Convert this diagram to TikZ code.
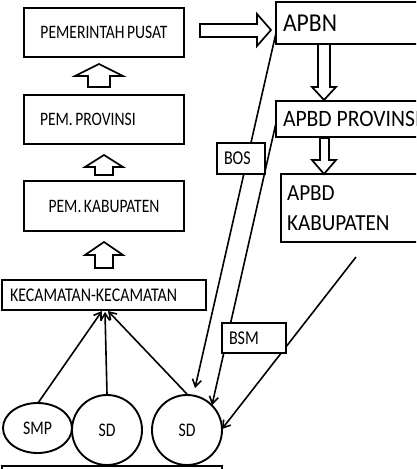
\documentclass[tikz,border=0pt]{standalone}
\usepackage{fontspec}
\setmainfont[FakeStretch=0.82,WordSpace=0.7]{Carlito}
\newfontfamily\bigf[FakeStretch=0.92,WordSpace=1.0]{Carlito}
\usetikzlibrary{shapes.geometric,arrows.meta}
\tikzset{
  box/.style={draw, line width=1.9pt, inner sep=0pt, font=\fontsize{19}{20}\selectfont},
  lbox/.style={box, align=flush left, inner ysep=0pt},
  bigbox/.style={draw, line width=1.9pt, inner ysep=0pt, align=flush left, font=\bigf\fontsize{23}{30}\selectfont},
  tag/.style={draw, line width=1.6pt, fill=white, inner ysep=0pt, align=flush left, font=\fontsize{19.6}{20}\selectfont},
  school/.style={draw, line width=1.9pt, inner sep=0pt, font=\fontsize{19.2}{20}\selectfont},
  blockarrow/.style={draw, line width=1.7pt, fill=white, line join=miter},
  link/.style={line width=1.6pt, -{Straight Barb[length=7pt,width=9pt,line width=1.6pt]}},
}
\begin{document}
\begin{tikzpicture}[x=1pt,y=-1pt]
\clip (0,0) rectangle (416,469);
\fill[white] (0,0) rectangle (416,469);

% left column
\node[box, minimum width=160pt, minimum height=49pt] (pusat) at (104,32.5) {PEMERINTAH PUSAT};
\node[lbox, inner xsep=16pt, text width=128pt, minimum height=49pt] (prov) at (104,119.5) {PEM. PROVINSI};
\node[box, minimum width=160pt, minimum height=50pt] (kab) at (104,206) {PEM. KABUPATEN};
\node[lbox, inner xsep=8pt, text width=188pt, minimum height=30pt, font=\fontsize{19.4}{20}\selectfont] (kec) at (104,295) {KECAMATAN-KECAMATAN};

% up block arrows
\draw[blockarrow] (99,64) -- (123,76) -- (110,76) -- (110,87) -- (88,87) -- (88,76) -- (75,76) -- cycle;
\draw[blockarrow] (104,155) -- (123,167) -- (113,167) -- (113,175) -- (95,175) -- (95,167) -- (85,167) -- cycle;
\draw[blockarrow] (104,242) -- (123,255) -- (113,255) -- (113,268) -- (95,268) -- (95,255) -- (85,255) -- cycle;

% right column
\node[bigbox, inner xsep=7pt, text width=146pt, minimum height=42pt, font=\bigf\fontsize{25.7}{30}\selectfont] (apbn) at (356,23) {APBN};
\node[bigbox, inner xsep=7pt, text width=146pt, minimum height=36pt, font=\bigf\fontsize{23.5}{30}\selectfont] (apbdprov) at (356,119) {APBD PROVINSI};
\node[bigbox, inner xsep=6pt, text width=148pt, minimum height=68pt] (apbdkab) at (361,208) {APBD\\KABUPATEN};

% right & down block arrows
\draw[blockarrow] (271,30) -- (257,46) -- (257,37) -- (200,37) -- (200,24) -- (257,24) -- (257,14) -- cycle;
\draw[blockarrow] (324,100) -- (336,87) -- (330,87) -- (330,44) -- (318,44) -- (318,87) -- (312,87) -- cycle;
\draw[blockarrow] (324,174) -- (336,160) -- (329,160) -- (329,138) -- (320,138) -- (320,160) -- (312,160) -- cycle;

% schools
\node[school, ellipse, minimum width=69pt, minimum height=50pt] (smp) at (37.5,428) {SMP};
\node[school, circle, minimum size=70pt] (sd1) at (107,430) {SD};
\node[school, circle, minimum size=70pt] (sd2) at (187,430) {SD};
\node[draw, line width=1.9pt, minimum width=220pt, minimum height=20pt, inner sep=0pt] (base) at (112,476) {};

% funding lines
\coordinate (a0) at (276,33);
\coordinate (a1) at (195,388);
\coordinate (b0) at (276,123);
\coordinate (b1) at (212,405);
\coordinate (c0) at (356,257);
\coordinate (c1) at (222,429);
\draw[link] (a0) -- (a1);
\draw[link] (b0) -- (b1);
\draw[link] (c0) -- (c1);

% labels over lines
\node[tag, inner xsep=7pt, text width=34pt, minimum height=31pt] (bos) at (241,158.5) {BOS};
\node[tag, inner xsep=7pt, text width=50pt, minimum height=30pt] (bsm) at (254,338) {BSM};

% converging arrows
\coordinate (k1) at (102,311);
\coordinate (k2) at (105,312);
\coordinate (k3) at (108,311);
\draw[link] (38,403) -- (k1);
\draw[link] (sd1.north) -- (k2);
\draw[link] (sd2.north) -- (k3);
\end{tikzpicture}
\end{document}
